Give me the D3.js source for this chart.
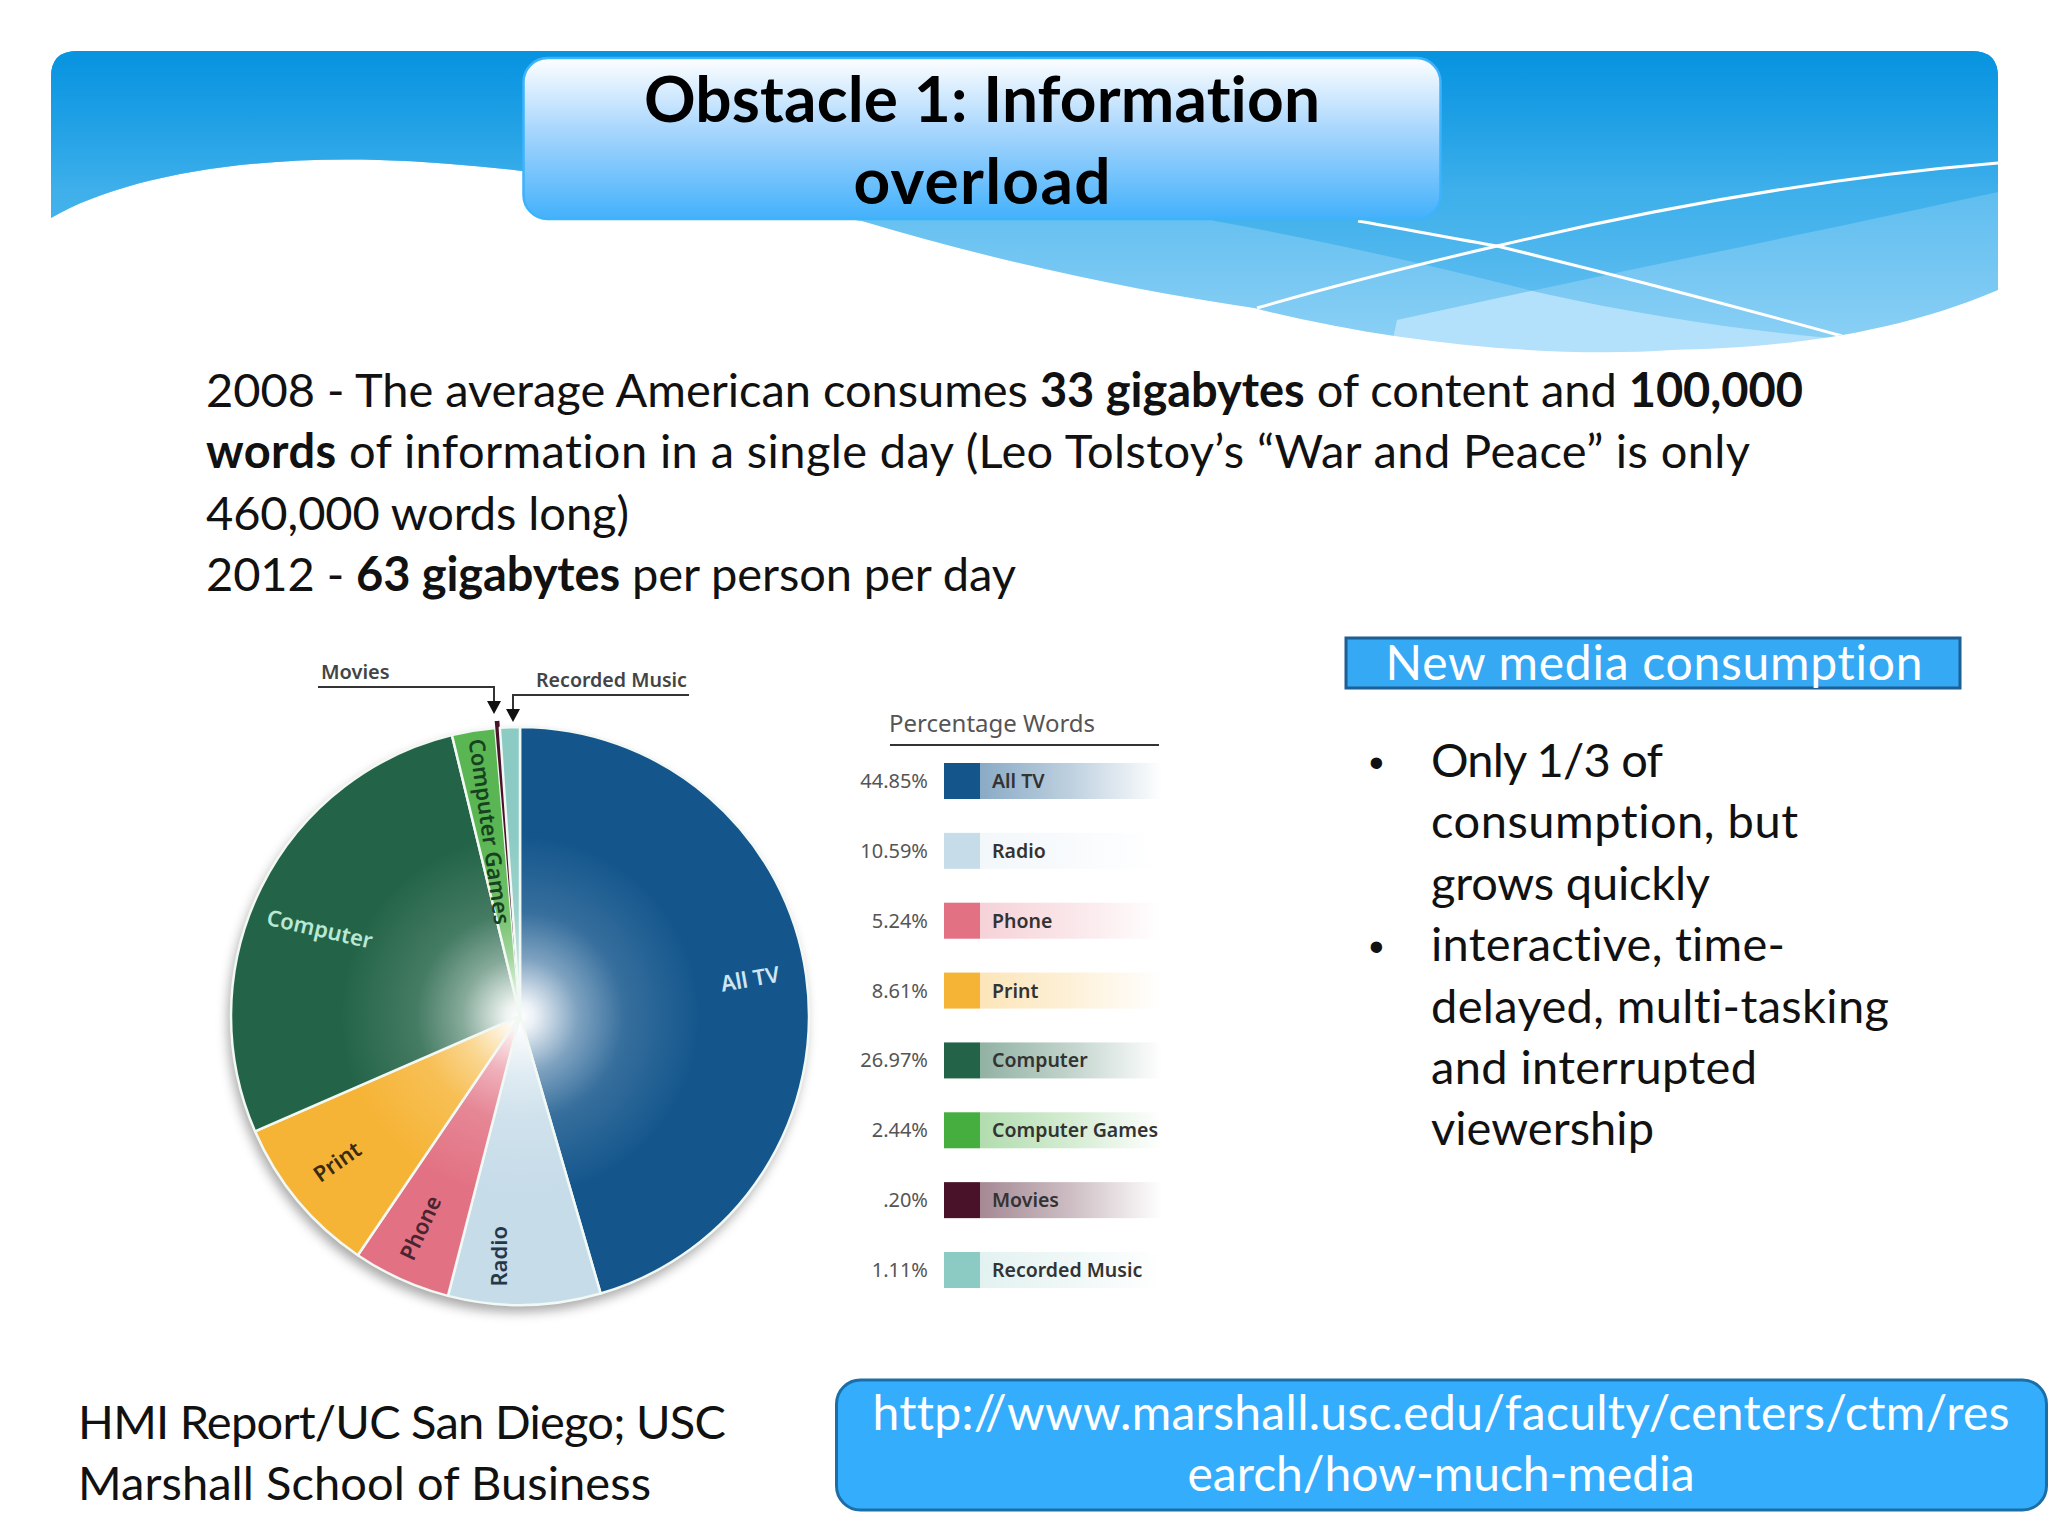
<!DOCTYPE html>
<html>
<head>
<meta charset="utf-8">
<script src="https://cdn.jsdelivr.net/npm/d3@7"></script>
<style>
  html, body { margin: 0; padding: 0; background: #fff; }
  svg { display: block; }
  text { font-family: Lato, "Open Sans", sans-serif; font-variant-ligatures: none; }
  .chart text { font-family: "Noto Sans", sans-serif; }
</style>
</head>
<body>
<div id="myChart"></div>
<script>
const categories = ["All TV", "Radio", "Phone", "Print", "Computer", "Computer Games", "Movies", "Recorded Music"];
const percentLabels = ["44.85%", "10.59%", "5.24%", "8.61%", "26.97%", "2.44%", ".20%", "1.11%"];
// slice sizes as measured on the drawn pie, they differ a little from the printed numbers
const sliceShares = [45.45, 8.5, 5.47, 8.97, 27.72, 2.42, 0.25, 1.11];
const sliceColors = ["#14568c", "#c6dce9", "#e27283", "#f6b436", "#236448", "#5ab652", "#4a1228", "#8ccbc4"];
const swatchColors = ["#14568c", "#c6dce9", "#e27283", "#f6b436", "#236448", "#46ad3f", "#4a1228", "#8ccbc4"];
const bandOpacity = [0.5, 0.22, 0.32, 0.35, 0.5, 0.42, 0.5, 0.25];

// labels written on the slices
const labelColors = ["#cfe6f2", "#25384a", "#4a2430", "#3a2b10", "#b9e8d4", "#17421f"];
const labelAngle = [81.3, 184.5, 204.7, 231, 293, 350];
const labelRadius = [233, 241, 234, 234, 218, 187];
const labelRotate = [-10, -90, -65, -35, 13, 82];

const titleLines = ["Obstacle 1: Information", "overload"];
const titleWidths = [676, 257];
const bodyLines = [
  [["2008 - The average American consumes ", 0], ["33 gigabytes", 1], [" of content and ", 0], ["100,000", 1]],
  [["words", 1], [" of information in a single day (Leo Tolstoy\u2019s \u201cWar and Peace\u201d is only", 0]],
  [["460,000 words long)", 0]],
  [["2012 - ", 0], ["63 gigabytes", 1], [" per person per day", 0]]
];
const bodyWidths = [1597, 1544, 423, 810];
const bulletLines = ["Only 1/3 of", "consumption, but", "grows quickly", "interactive, time-", "delayed, multi-tasking", "and interrupted", "viewership"];
const bulletWidths = [232, 367, 279, 354, 458, 326, 223];
const bulletStarts = [0, 3];
const sourceLines = ["HMI Report/UC San Diego; USC", "Marshall School of Business"];
const sourceWidths = [648, 573];
const urlLines = ["http://www.marshall.usc.edu/faculty/centers/ctm/res", "earch/how-much-media"];
const urlWidths = [1137, 507];

let width = 2048, height = 1536;
let svg = d3.select("#myChart").append("svg").attr("width", width).attr("height", height);
let defs = svg.append("defs");

function vGrad(id, stops, y1, y2) {
  let g = defs.append("linearGradient").attr("id", id)
    .attr("gradientUnits", "userSpaceOnUse").attr("x1", 0).attr("x2", 0).attr("y1", y1).attr("y2", y2);
  stops.forEach(s => g.append("stop").attr("offset", s[0]).attr("stop-color", s[1]).attr("stop-opacity", s[2]));
}

// header wave
const waveD = "M51,218 C120,178 240,156 379,160 C520,164 650,190 862,221 C1000,262 1130,290 1254,308 " +
  "C1400,345 1560,358 1672,350 C1760,348 1880,340 1998,290 L1998,77 Q1998,51 1972,51 L77,51 Q51,51 51,77 Z";
defs.append("clipPath").attr("id", "waveClip").append("path").attr("d", waveD);
vGrad("overGrad", [[0, "#0793e0", 0.95], [0.48, "#2aa7e8", 0.62], [1, "#2aa7e8", 0.3]], 51, 340);

let header = svg.append("g").attr("clip-path", "url(#waveClip)");
header.append("rect").attr("x", 51).attr("y", 51).attr("width", 1947).attr("height", 310).attr("fill", "#b3e1fb");
// wave A runs down to the right, wave B rises to the right
header.append("path").attr("fill", "url(#overGrad)")
  .attr("d", "M0,0 L0,300 L523,300 L523,190 L1100,190 L1215,221 C1320,240 1430,265 1541,293 C1640,315 1740,330 1829,338 L2048,345 L2048,0 Z");
header.append("path").attr("fill", "url(#overGrad)")
  .attr("d", "M0,0 L0,400 L1380,400 L1397,320 C1470,304 1545,288 1620,272 C1750,245 1880,218 1998,192 L2048,180 L2048,0 Z");

// thin white lines crossing the wave
header.append("path").attr("fill", "none").attr("stroke", "#fff").attr("stroke-width", 3)
  .attr("d", "M1358,221 C1405,229 1450,238 1497,246 C1620,276 1730,305 1842,336");
header.append("path").attr("fill", "none").attr("stroke", "#fff").attr("stroke-width", 3)
  .attr("d", "M1257,308 C1340,284 1420,264 1497,246 C1640,212 1820,178 1998,163");

// title box
vGrad("titleGrad", [[0, "#ffffff", 1], [0.45, "#a8d6fd", 1], [1, "#43b1fb", 1]], 57, 219);
svg.append("rect").attr("x", 523.5).attr("y", 58).attr("width", 917).attr("height", 161).attr("rx", 24)
  .attr("fill", "url(#titleGrad)").attr("stroke", "#3db3fb").attr("stroke-width", 2.5);
svg.append("g").selectAll("text").data(titleLines).enter().append("text")
  .attr("x", 982).attr("y", (d, i) => 122 + i * 82)
  .attr("text-anchor", "middle").attr("font-size", 64).attr("font-weight", 700).attr("fill", "#000")
  .attr("textLength", (d, i) => titleWidths[i]).attr("lengthAdjust", "spacing")
  .text(d => d);

// paragraph
let para = svg.append("g").selectAll("text").data(bodyLines).enter().append("text")
  .attr("x", 206).attr("y", (d, i) => 407 + i * 61.4)
  .attr("font-size", 47).attr("fill", "#111")
  .attr("textLength", (d, i) => bodyWidths[i]).attr("lengthAdjust", "spacing")
  .style("white-space", "pre");
para.selectAll("tspan").data(d => d).enter().append("tspan")
  .attr("font-weight", d => d[1] ? 700 : 400)
  .text(d => d[0]);

// pie
let cx = 520, cy = 1016, radius = 289;
let chart = svg.append("g").attr("class", "chart");

let blur = defs.append("filter").attr("id", "pieShadow")
  .attr("x", "-20%").attr("y", "-20%").attr("width", "140%").attr("height", "140%");
blur.append("feGaussianBlur").attr("stdDeviation", 6);

let pieG = chart.append("g").attr("transform", "translate(" + cx + "," + cy + ")");
pieG.append("circle").attr("cx", -3).attr("cy", 7).attr("r", radius).attr("fill", "#777")
  .attr("opacity", 0.65).attr("filter", "url(#pieShadow)");

sliceColors.forEach((c, i) => {
  let mix = d3.interpolateRgb("#fff", c);
  let g = defs.append("radialGradient").attr("id", "slice" + i)
    .attr("gradientUnits", "userSpaceOnUse").attr("cx", 0).attr("cy", 0).attr("r", radius);
  g.append("stop").attr("offset", 0).attr("stop-color", "#fff");
  g.append("stop").attr("offset", 0.05).attr("stop-color", mix(0.08));
  g.append("stop").attr("offset", 0.2).attr("stop-color", mix(0.55));
  g.append("stop").attr("offset", 0.36).attr("stop-color", mix(0.85));
  g.append("stop").attr("offset", 0.62).attr("stop-color", c);
  g.append("stop").attr("offset", 1).attr("stop-color", c);
});

let pie = d3.pie().sort(null).value(d => d);
let slices = pie(sliceShares);
let arc = d3.arc().innerRadius(0).outerRadius((d, i) => i === 6 ? radius + 7 : radius);

pieG.selectAll("path.slice").data(slices).enter().append("path")
  .attr("class", "slice")
  .attr("d", (d, i) => arc(d, i))
  .attr("fill", (d, i) => i === 6 ? sliceColors[i] : "url(#slice" + i + ")")
  .attr("stroke", (d, i) => i === 6 ? "none" : "#f2f8f4")
  .attr("stroke-width", 2.5)
  .attr("stroke-linejoin", "round");

pieG.selectAll("text.sliceLabel").data(categories.slice(0, 6)).enter().append("text")
  .attr("class", "sliceLabel")
  .attr("transform", (d, i) => {
    let p = d3.pointRadial(labelAngle[i] * Math.PI / 180, labelRadius[i]);
    return "translate(" + p[0] + "," + p[1] + ") rotate(" + labelRotate[i] + ")";
  })
  .attr("text-anchor", "middle").attr("dominant-baseline", "middle")
  .attr("font-size", 22).attr("font-weight", 600)
  .attr("fill", (d, i) => labelColors[i])
  .text(d => d);

// callouts above the pie
chart.append("text").attr("x", 321).attr("y", 679).attr("font-size", 20).attr("font-weight", 600).attr("fill", "#444").text("Movies");
chart.append("text").attr("x", 536).attr("y", 687).attr("font-size", 19.6).attr("font-weight", 600).attr("fill", "#444").text("Recorded Music");
chart.append("path").attr("fill", "none").attr("stroke", "#333").attr("stroke-width", 2).attr("d", "M318,687 H494 V702");
chart.append("path").attr("fill", "none").attr("stroke", "#333").attr("stroke-width", 2).attr("d", "M689,695 H513 V710");
chart.append("path").attr("fill", "#111").attr("d", "M487,701 H501 L494,714 Z");
chart.append("path").attr("fill", "#111").attr("d", "M506,709 H520 L513,722 Z");

// legend
let y = d3.scalePoint().domain(categories).range([781, 1270]);
chart.append("text").attr("x", 889).attr("y", 732).attr("font-size", 24).attr("fill", "#555").text("Percentage Words");
chart.append("line").attr("x1", 890).attr("x2", 1159).attr("y1", 745).attr("y2", 745).attr("stroke", "#333").attr("stroke-width", 2);

categories.forEach((c, i) => {
  let g = defs.append("linearGradient").attr("id", "band" + i);
  g.append("stop").attr("offset", 0).attr("stop-color", swatchColors[i]).attr("stop-opacity", bandOpacity[i]);
  g.append("stop").attr("offset", 0.5).attr("stop-color", swatchColors[i]).attr("stop-opacity", bandOpacity[i] * 0.55);
  g.append("stop").attr("offset", 1).attr("stop-color", swatchColors[i]).attr("stop-opacity", 0);
});
let rows = chart.append("g").selectAll("g").data(categories).enter().append("g")
  .attr("transform", d => "translate(0," + y(d) + ")");
rows.append("rect").attr("x", 980).attr("y", -18).attr("width", 182).attr("height", 36)
  .attr("fill", (d, i) => "url(#band" + i + ")");
rows.append("rect").attr("x", 944).attr("y", -18).attr("width", 36).attr("height", 36)
  .attr("fill", (d, i) => swatchColors[i]);
rows.append("text").attr("x", 928).attr("y", 7).attr("text-anchor", "end")
  .attr("font-size", 20).attr("fill", "#555").text((d, i) => percentLabels[i]);
rows.append("text").attr("x", 992).attr("y", 7)
  .attr("font-size", 19.5).attr("font-weight", 600).attr("fill", "#333").text(d => d);

// New media box and bullets
svg.append("rect").attr("x", 1346).attr("y", 638).attr("width", 614).attr("height", 50)
  .attr("fill", "#35a9f4").attr("stroke", "#1c5f95").attr("stroke-width", 3);
svg.append("text").attr("x", 1654).attr("y", 680).attr("text-anchor", "middle")
  .attr("font-size", 48).attr("fill", "#fff")
  .attr("textLength", 537).attr("lengthAdjust", "spacing").text("New media consumption");

let bullets = svg.append("g").selectAll("g").data(bulletLines).enter().append("g")
  .attr("transform", (d, i) => "translate(0," + (777 + i * 61.4) + ")");
bullets.append("text").attr("x", 1431).attr("font-size", 47).attr("fill", "#111")
  .attr("textLength", (d, i) => bulletWidths[i]).attr("lengthAdjust", "spacing").text(d => d);
bullets.filter((d, i) => bulletStarts.includes(i)).append("text").attr("x", 1369).attr("font-size", 42)
  .style("font-family", "Liberation Sans").attr("fill", "#111").text("\u2022");

// source
svg.append("g").selectAll("text").data(sourceLines).enter().append("text")
  .attr("x", 78).attr("y", (d, i) => 1439 + i * 61.4)
  .attr("font-size", 47).attr("fill", "#111")
  .attr("textLength", (d, i) => sourceWidths[i]).attr("lengthAdjust", "spacing").text(d => d);

// url box
svg.append("rect").attr("x", 836.5).attr("y", 1380).attr("width", 1210).attr("height", 130).attr("rx", 24)
  .attr("fill", "#34aefc").attr("stroke", "#1c6ea8").attr("stroke-width", 3);
svg.append("g").selectAll("text").data(urlLines).enter().append("text")
  .attr("x", 1441).attr("y", (d, i) => 1430 + i * 61)
  .attr("text-anchor", "middle").attr("font-size", 48).attr("fill", "#fff")
  .attr("textLength", (d, i) => urlWidths[i]).attr("lengthAdjust", "spacing").text(d => d);
</script>
</body>
</html>
